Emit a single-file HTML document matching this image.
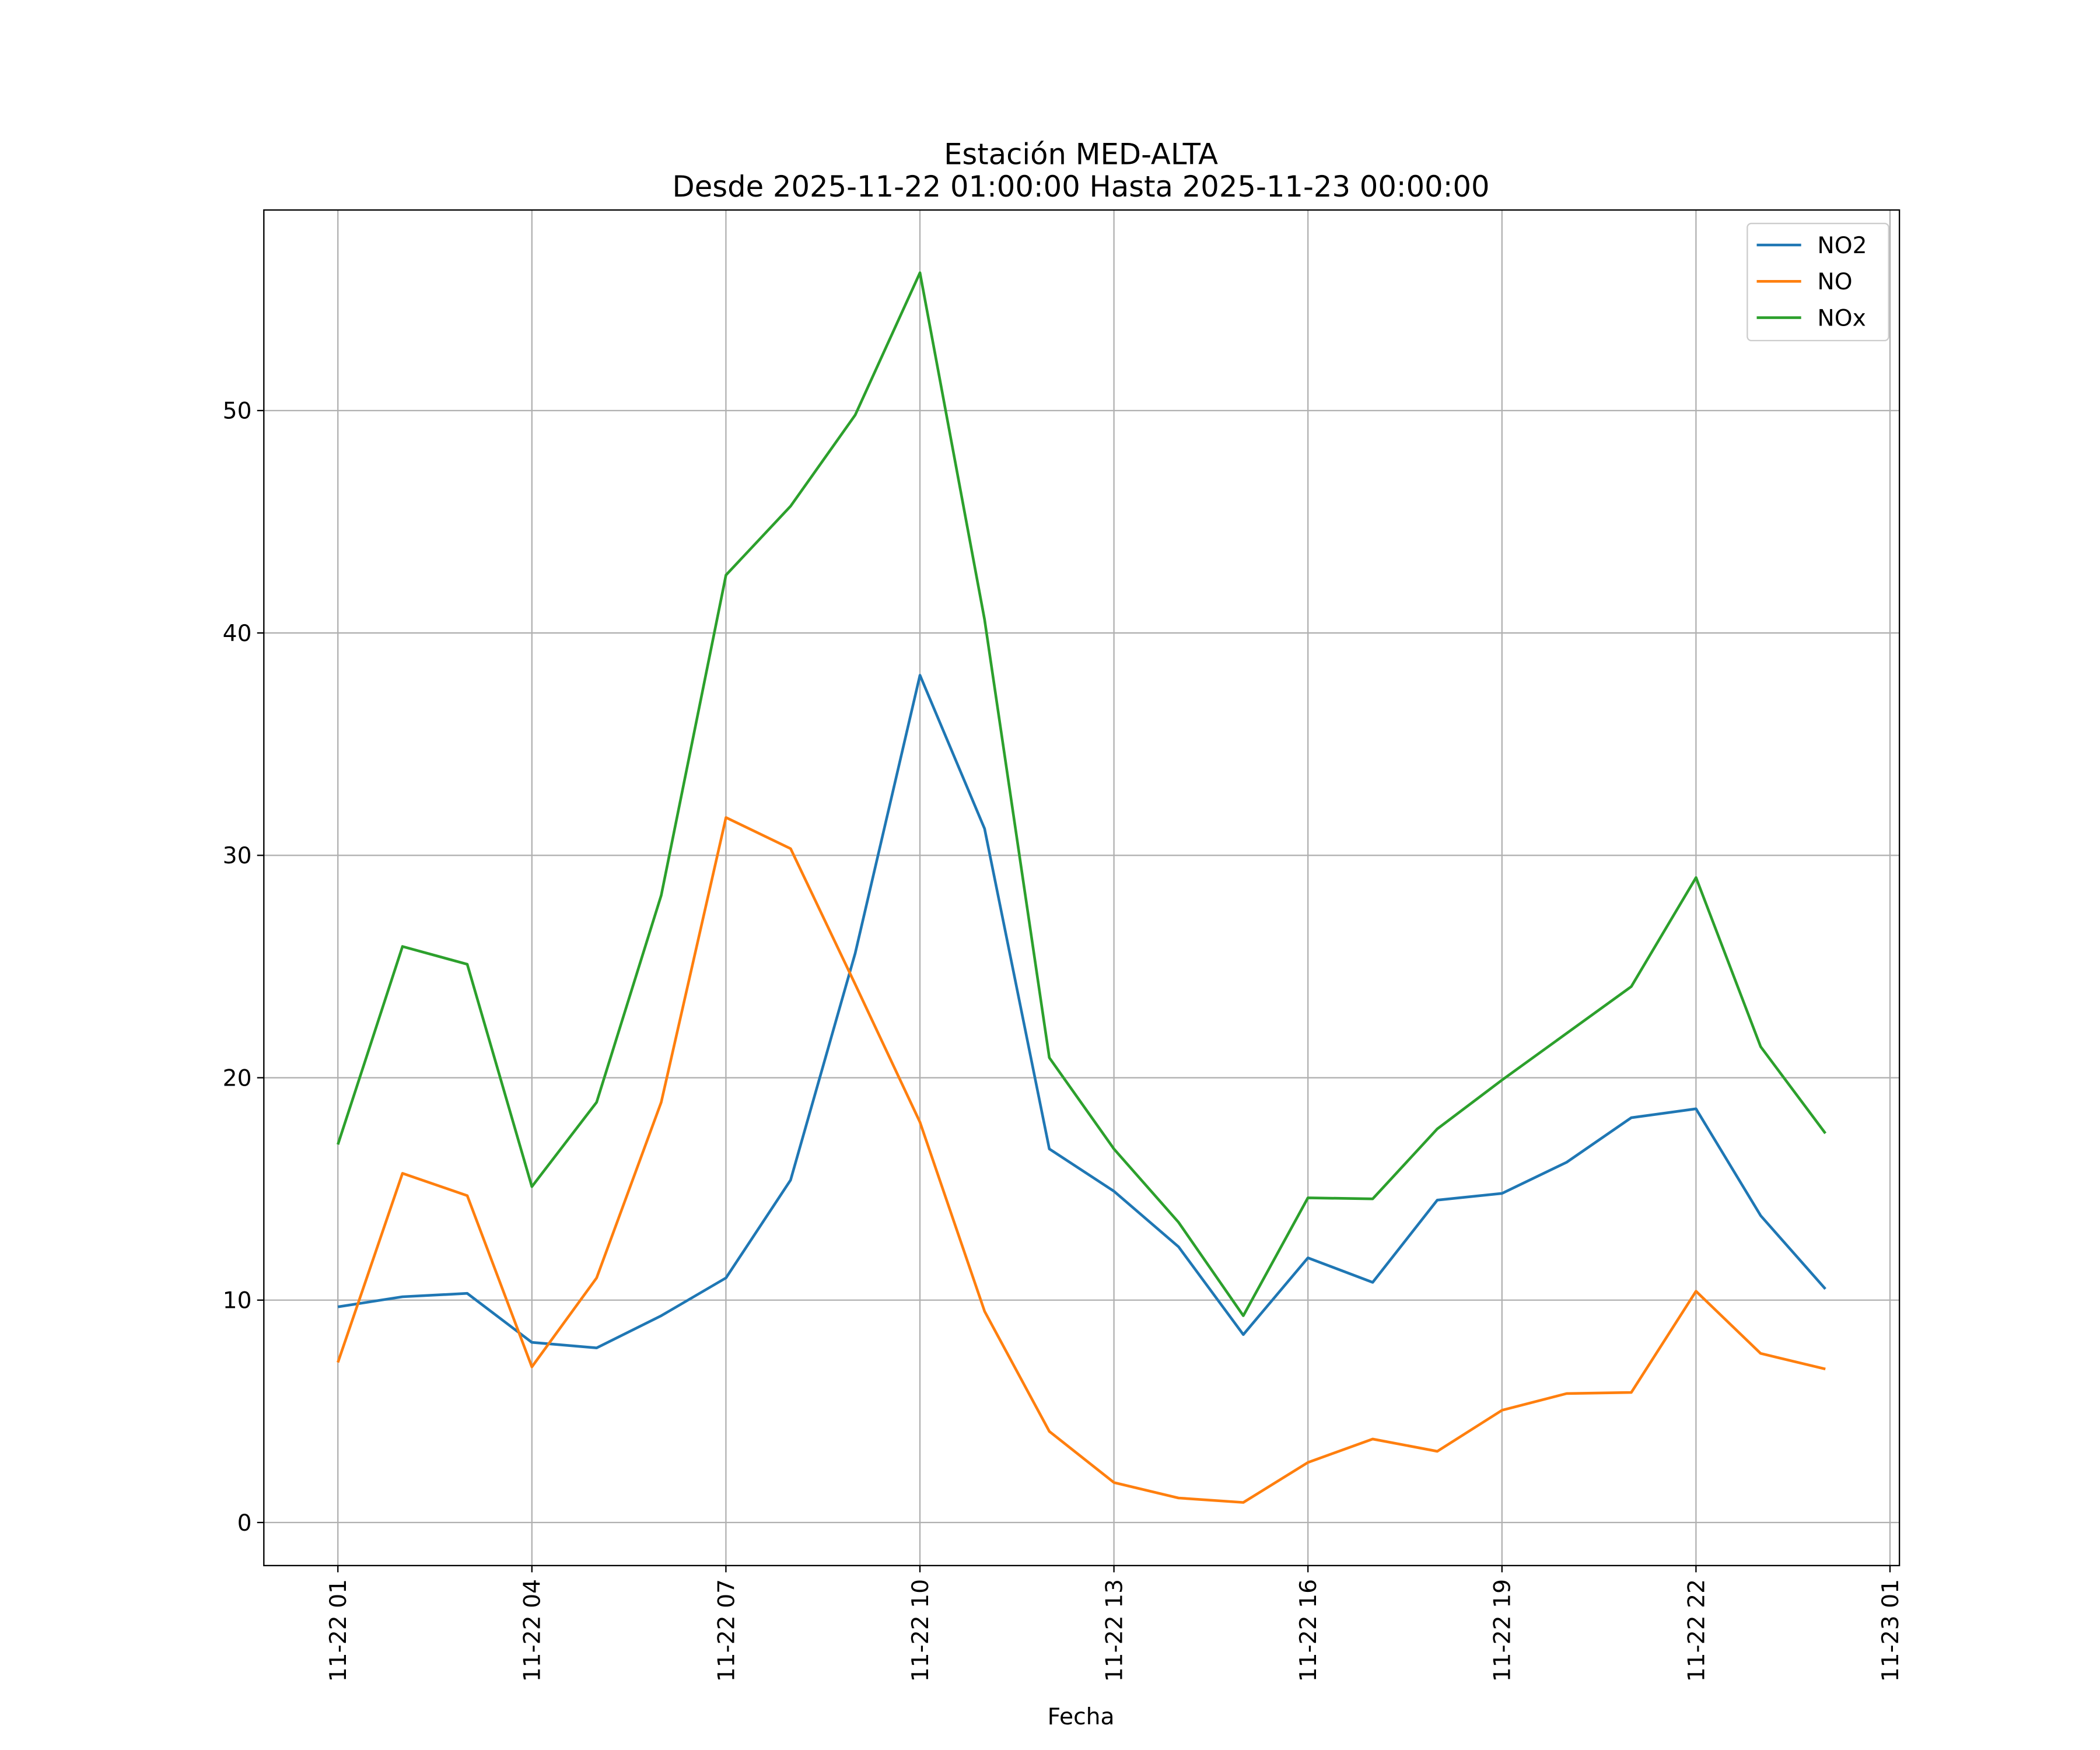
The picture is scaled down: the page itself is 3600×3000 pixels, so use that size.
<!DOCTYPE html>
<html><head><meta charset="utf-8"><style>
html,body{margin:0;padding:0;background:#fff;}
svg{display:block;font-family:"DejaVu Sans","Liberation Sans",sans-serif;}
</style></head><body>
<svg id="chart" width="3600" height="3000" viewBox="0 0 1560 1300" xmlns="http://www.w3.org/2000/svg">
<rect width="1560" height="1300" fill="#fff"/>
<g id="grid"></g>
<g id="series"></g>
<rect x="196" y="156" width="1215" height="1007" fill="none" stroke="#000" stroke-width="1"/>
<g id="ticks"></g>
<text x="803" y="122" text-anchor="middle" font-size="21.5">Estación MED-ALTA</text>
<text x="803" y="146" text-anchor="middle" font-size="21.5">Desde 2025-11-22 01:00:00 Hasta 2025-11-23 00:00:00</text>
<text x="803" y="1281" text-anchor="middle" font-size="17">Fecha</text>
<g id="legend"></g>
</svg>
<script>
const hours = [1,2,3,4,5,6,7,8,9,10,11,12,13,14,15,16,17,18,19,20,21,22,23,24];
const no2 = [9.7,10.15,10.3,8.1,7.85,9.3,11.0,15.4,25.6,38.1,31.2,16.8,14.9,12.4,8.45,11.9,10.8,14.5,14.8,16.2,18.2,18.6,13.8,10.5];
const no = [7.2,15.7,14.7,7.0,11.0,18.9,31.7,30.3,24.2,18.0,9.5,4.1,1.8,1.1,0.9,2.7,3.75,3.2,5.05,5.8,5.85,10.4,7.6,6.9];
const nox = [17.0,25.9,25.1,15.1,18.9,28.2,42.6,45.7,49.8,56.2,40.6,20.9,16.8,13.5,9.3,14.6,14.55,17.7,19.9,22.0,24.1,29.0,21.4,17.5];
const yTicks = [0,10,20,30,40,50];
const xTickHours = [1,4,7,10,13,16,19,22,25];
const xTickLabels = ["11-22 01","11-22 04","11-22 07","11-22 10","11-22 13","11-22 16","11-22 19","11-22 22","11-23 01"];
const seriesNames = ["NO2","NO","NOx"];
const seriesColors = ["#1f77b4","#ff7f0e","#2ca02c"];

const NS="http://www.w3.org/2000/svg";
const X0=196,X1=1411,Y0=156,Y1=1163;
function xs(h){return 251+(h-1)*(1404-251)/24;}
function ys(v){return 1131-v*(1131-305)/50;}
function mk(tag,attrs,parent){const e=document.createElementNS(NS,tag);for(const k in attrs)e.setAttribute(k,attrs[k]);parent.appendChild(e);return e;}
const grid=document.getElementById('grid'),ticks=document.getElementById('ticks'),ser=document.getElementById('series'),leg=document.getElementById('legend');
yTicks.forEach(v=>{
  const y=ys(v);
  const g=mk('line',{x1:X0,x2:X1,y1:y,y2:y,stroke:'#b0b0b0','stroke-width':1},grid);
  
  
  mk('line',{x1:X0-5,x2:X0,y1:y,y2:y,stroke:'#000','stroke-width':1},ticks);
  const t=mk('text',{x:X0-9,y:y+6,'text-anchor':'end','font-size':17},ticks);
  t.textContent=v;
  
  
});
xTickHours.forEach((h,i)=>{
  const x=xs(h);
  const g=mk('line',{x1:x,x2:x,y1:Y0,y2:Y1,stroke:'#b0b0b0','stroke-width':1},grid);
  
  
  mk('line',{x1:x,x2:x,y1:Y1,y2:Y1+5,stroke:'#000','stroke-width':1},ticks);
  const t=mk('text',{x:0,y:0,'text-anchor':'end','font-size':17,transform:`translate(${x+6},${Y1+10}) rotate(-90)`},ticks);
  t.textContent=xTickLabels[i];
  
  
});
[no2,no,nox].forEach((arr,si)=>{
  const pts=arr.map((v,i)=>xs(hours[i]).toFixed(1)+','+ys(v).toFixed(1)).join(' ');
  const p=mk('polyline',{points:pts,fill:'none',stroke:seriesColors[si],'stroke-width':2,'stroke-linejoin':'round'},ser);
  
  
});
const box=mk('rect',{x:1298,y:166,width:105,height:87,rx:3,fill:'#fff','fill-opacity':0.8,stroke:'#ccc'},leg);


seriesNames.forEach((n,i)=>{
  const y=182+i*27;
  const l=mk('line',{x1:1305,x2:1338,y1:y,y2:y,stroke:seriesColors[i],'stroke-width':2},leg);
  
  
  const t=mk('text',{x:1350,y:y+6,'font-size':17},leg);
  t.textContent=n;
  
  
});
</script>
</body></html>
